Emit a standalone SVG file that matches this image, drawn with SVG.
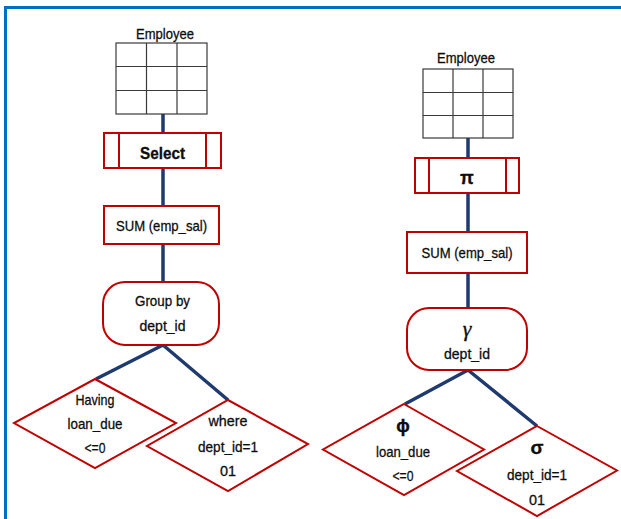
<svg xmlns="http://www.w3.org/2000/svg" width="621" height="519" viewBox="0 0 621 519">
<style>
.t{font-family:"Liberation Sans",Arial,sans-serif;font-size:15px;fill:#0d0d0d;stroke:#0d0d0d;stroke-width:0.3;text-anchor:middle}
.b{font-weight:bold}
.box{fill:#fff;stroke:#c00000;stroke-width:2}
.grid{fill:#fff;stroke:#3a3a3a;stroke-width:1.2}
.conn{stroke:#1f3a6e;stroke-width:3.5;fill:none}
.border{stroke:#0070c0;stroke-width:3;fill:none}
</style>
<rect width="621" height="519" fill="#fff"/>
<path class="border" d="M5.5,519 V7.5 H621"/>
<g id="connectors">
<line class="conn" x1="163" y1="114" x2="163" y2="133"/>
<line class="conn" x1="163" y1="168" x2="163" y2="206"/>
<line class="conn" x1="163" y1="244" x2="163" y2="282"/>
<polyline class="conn" points="96,379 163,345 228,400"/>
<line class="conn" x1="468" y1="138" x2="468" y2="158"/>
<line class="conn" x1="468" y1="193" x2="468" y2="232"/>
<line class="conn" x1="468" y1="273" x2="468" y2="308"/>
<polyline class="conn" points="405,404 468,370 537,426"/>
</g>
<g id="employee-left">
<text class="t" x="165" y="39" textLength="58" lengthAdjust="spacingAndGlyphs">Employee</text>
<rect class="grid" x="116" y="43" width="91" height="71"/>
<path class="grid" d="M146.5,43 V114 M177,43 V114 M116,66.5 H207 M116,90.5 H207"/>
</g>
<g id="select">
<rect class="box" x="104" y="133" width="117" height="35"/>
<path class="box" d="M119,133 V168 M206,133 V168"/>
<text class="t b" x="162.5" y="159" style="font-size:17px" textLength="45" lengthAdjust="spacingAndGlyphs">Select</text>
</g>
<g id="sum-left">
<rect class="box" x="104" y="206" width="115" height="38"/>
<text class="t" x="161.5" y="231" textLength="91" lengthAdjust="spacingAndGlyphs">SUM (emp_sal)</text>
</g>
<g id="groupby">
<rect class="box" x="103" y="282" width="116" height="63" rx="22" ry="22"/>
<text class="t" x="162.5" y="306" textLength="55" lengthAdjust="spacingAndGlyphs">Group by</text>
<text class="t" x="162.5" y="331" textLength="46" lengthAdjust="spacingAndGlyphs">dept_id</text>
</g>
<g id="having">
<polygon class="box" points="95,379 176,423 95,468 14,423"/>
<text class="t" x="95" y="405" textLength="39" lengthAdjust="spacingAndGlyphs">Having</text>
<text class="t" x="95" y="429" textLength="55" lengthAdjust="spacingAndGlyphs">loan_due</text>
<text class="t" x="95" y="453" textLength="21" lengthAdjust="spacingAndGlyphs">&lt;=0</text>
</g>
<g id="where">
<polygon class="box" points="228,400 308,444 228,491 147,446"/>
<text class="t" x="228" y="426" textLength="39" lengthAdjust="spacingAndGlyphs">where</text>
<text class="t" x="228" y="452" textLength="60" lengthAdjust="spacingAndGlyphs">dept_id=1</text>
<text class="t" x="228" y="476" textLength="16" lengthAdjust="spacingAndGlyphs">01</text>
</g>
<g id="employee-right">
<text class="t" x="466" y="63" textLength="58" lengthAdjust="spacingAndGlyphs">Employee</text>
<rect class="grid" x="423" y="69" width="90" height="69"/>
<path class="grid" d="M453,69 V138 M483,69 V138 M423,92.5 H513 M423,115.5 H513"/>
</g>
<g id="pi">
<rect class="box" x="415" y="158" width="104" height="35"/>
<path class="box" d="M429,158 V193 M506,158 V193"/>
<text class="t b" x="467" y="184" style="font-size:18px">π</text>
</g>
<g id="sum-right">
<rect class="box" x="407" y="232" width="120" height="41"/>
<text class="t" x="467" y="258" textLength="91" lengthAdjust="spacingAndGlyphs">SUM (emp_sal)</text>
</g>
<g id="gamma">
<rect class="box" x="407" y="308" width="120" height="62" rx="22" ry="22"/>
<text class="t" x="467" y="336" style="font-family:'Liberation Serif','Times New Roman',serif;font-size:22px;font-style:italic">γ</text>
<text class="t" x="467" y="359" textLength="46" lengthAdjust="spacingAndGlyphs">dept_id</text>
</g>
<g id="phi">
<polygon class="box" points="404,404 484,449.5 404,495 323,449.5"/>
<text class="t b" x="403" y="432" style="font-size:18px">ϕ</text>
<text class="t" x="403" y="457" textLength="54" lengthAdjust="spacingAndGlyphs">loan_due</text>
<text class="t" x="403" y="481" textLength="21" lengthAdjust="spacingAndGlyphs">&lt;=0</text>
</g>
<g id="sigma">
<polygon class="box" points="537,426 617,470.5 537,516 457,471"/>
<text class="t b" x="537" y="454" style="font-size:19px">σ</text>
<text class="t" x="537" y="480" textLength="60" lengthAdjust="spacingAndGlyphs">dept_id=1</text>
<text class="t" x="537" y="505" textLength="16" lengthAdjust="spacingAndGlyphs">01</text>
</g>
</svg>
